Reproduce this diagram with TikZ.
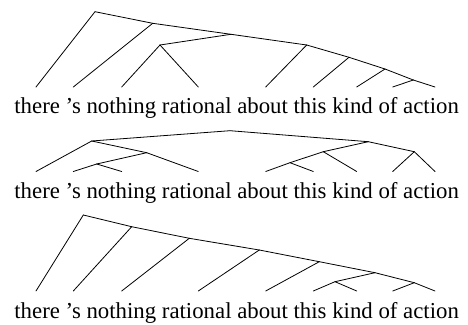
\documentclass[tikz,border=0pt]{standalone}
\usepackage{fontspec}
\setmainfont{Liberation Serif}
\usepackage{tikz}

\begin{document}
\begin{tikzpicture}[x=1pt,y=-1pt,line width=0.8pt,line cap=round,
    words/.style={anchor=base west,inner sep=0pt,font=\fontsize{22.8}{27}\selectfont}]
  \useasboundingbox (0,0) rectangle (468,324);

  \foreach \x [count=\i] in {36,73.3,121.7,198.3,265.7,313.3,356.7,392.7,435} {
    \coordinate (wa\i) at (\x,87);
    \coordinate (wb\i) at (\x,171.5);
    \coordinate (wc\i) at (\x,291);
  }

  \coordinate (a0) at (95,11.7);
  \coordinate (a1) at (152.7,23.3);
  \coordinate (a2) at (231,34.3);
  \coordinate (a3) at (160,45);
  \coordinate (a4) at (306.7,45);
  \coordinate (a5) at (349,57.3);
  \coordinate (a6) at (385,69);
  \coordinate (a7) at (413.3,80);
  \node[words] (sent1) at (14,113.3) {there 's nothing rational about this kind of action};

  \coordinate (b0) at (230,130.7);
  \coordinate (b1) at (91.7,141);
  \coordinate (b2) at (146.7,152.7);
  \coordinate (b3) at (96.7,164);
  \coordinate (b4) at (368.3,141.7);
  \coordinate (b5) at (323.3,151.7);
  \coordinate (b6) at (290,162.7);
  \coordinate (b7) at (414.3,151.7);
  \node[words] (sent2) at (14,198.3) {there 's nothing rational about this kind of action};

  \coordinate (c0) at (83.3,215);
  \coordinate (c1) at (131.7,226.7);
  \coordinate (c2) at (189.3,238.3);
  \coordinate (c3) at (259.3,250);
  \coordinate (c4) at (319.3,261.7);
  \coordinate (c5) at (375,272.7);
  \coordinate (c6) at (335,281.7);
  \coordinate (c7) at (414.3,282.7);
  \node[words] (sent3) at (14,318.3) {there 's nothing rational about this kind of action};

  \path
  (a0) edge (wa1) edge (a1)
  (a1) edge (wa2) edge (a2)
  (a2) edge (a3) edge (a4)
  (a3) edge (wa3) edge (wa4)
  (a4) edge (wa5) edge (a5)
  (a5) edge (wa6) edge (a6)
  (a6) edge (wa7) edge (a7)
  (a7) edge (wa8) edge (wa9);

  \path
  (b0) edge (b1) edge (b4)
  (b1) edge (wb1) edge (b2)
  (b2) edge (b3) edge (wb4)
  (b3) edge (wb2) edge (wb3)
  (b4) edge (b5) edge (b7)
  (b5) edge (b6) edge (wb7)
  (b6) edge (wb5) edge (wb6)
  (b7) edge (wb8) edge (wb9);

  \path
  (c0) edge (wc1) edge (c1)
  (c1) edge (wc2) edge (c2)
  (c2) edge (wc3) edge (c3)
  (c3) edge (wc4) edge (c4)
  (c4) edge (wc5) edge (c5)
  (c5) edge (c6) edge (c7)
  (c6) edge (wc6) edge (wc7)
  (c7) edge (wc8) edge (wc9);
\end{tikzpicture}
\end{document}
